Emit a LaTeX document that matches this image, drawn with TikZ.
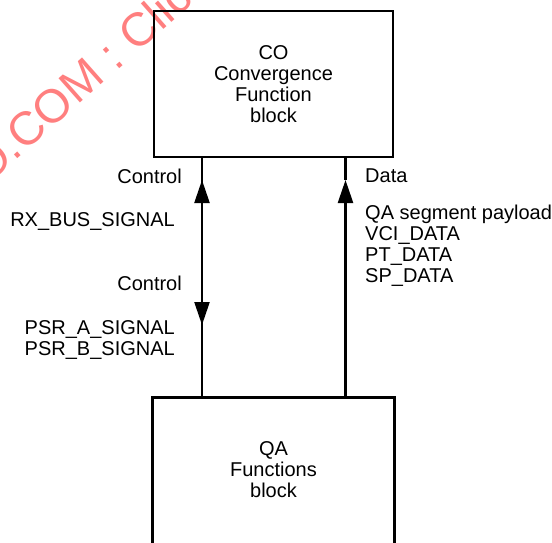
\documentclass[tikz,border=0pt]{standalone}
\usepackage{fontspec}
\setmainfont{Liberation Sans}
\usetikzlibrary{positioning,arrows.meta}
\definecolor{stamp}{HTML}{FF7F7F}
\tikzset{
  fblock/.style={draw, line width=2.6pt, minimum width=239pt, inner sep=0pt, align=center},
  sigtext/.style={inner sep=0pt, align=left},
  sigline/.style={line width=2.3pt},
  sigtip/.style={-{Triangle[length=23pt,width=15pt]}},
  stamptext/.style={inner sep=0pt, text=stamp, font=\fontsize{47}{47}\selectfont, rotate=41.5}
}

\begin{document}
\begin{tikzpicture}[x=1pt, y=-1pt, font=\fontsize{20}{21}\selectfont]
  \useasboundingbox (0,0) rectangle (552,542);
  \clip (0,0) rectangle (552,542);

  \node[stamptext, anchor=base west] (stamp) at (-46,215) {ISO.COM : Click};

  \node[fblock, minimum height=146pt] (co) at (273.5,84) {CO\\Convergence\\Function\\block};
  \node[fblock, draw=none, minimum height=142pt] (qa) at (273.5,470) {QA\\Functions\\block};
  \draw[line width=2.6pt] ([yshift=-12pt]qa.south west) |- (qa.north east) -- ([yshift=-12pt]qa.south east);

  \coordinate (ctrlup) at (202,180);
  \coordinate (ctrldown) at (202,325);
  \coordinate (dataup) at (345.5,180);

  \draw[sigline] (ctrlup) -- (co.south -| ctrlup);
  \draw[sigline, sigtip] (qa.north -| ctrlup) -- (ctrlup);
  \draw[sigline, sigtip] (ctrlup) -- (ctrldown);
  \draw[sigline] (dataup) -- (co.south -| dataup);
  \draw[sigline, sigtip] (qa.north -| dataup) -- (dataup);

  \node[sigtext, anchor=base east] (ctrlin) at (182,183) {Control};
  \node[sigtext, anchor=base east] (rxsig) at (175,226) {RX\_BUS\_SIGNAL};
  \node[sigtext, anchor=base east] (ctrlout) at (182,290) {Control};
  \node[sigtext, anchor=north east] (psrsig) at (175,320.7) {PSR\_A\_SIGNAL\\PSR\_B\_SIGNAL};
  \node[sigtext, anchor=base west] (datain) at (365,182.7) {Data};
  \node[sigtext, anchor=north west] (datasig) at (365,204.7) {QA segment payload\\VCI\_DATA\\PT\_DATA\\SP\_DATA};
\end{tikzpicture}
\end{document}
